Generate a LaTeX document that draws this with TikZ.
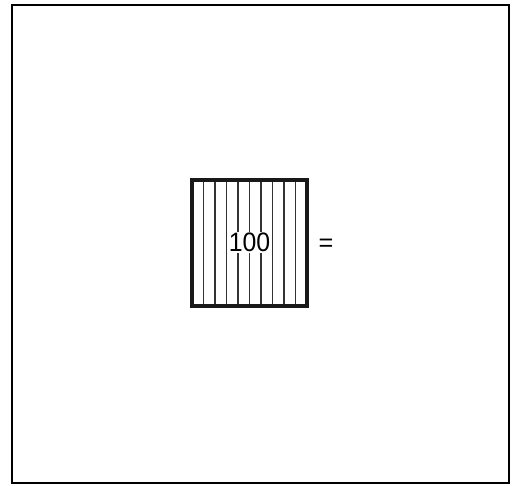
\documentclass[tikz,border=0pt]{standalone}
\usepackage{fontspec}
\setmainfont{Liberation Sans}
\newfontfamily\narrowfont[FakeStretch=0.93]{Liberation Sans}
\begin{document}
\begin{tikzpicture}[x=0.75pt,y=-0.75pt,
  frame/.style={line width=1.7pt,black},
  boxedge/.style={line width=2.6pt,black!90},
  stripe/.style={line width=1pt,black!80},
  lbl/.style={font=\narrowfont\fontsize{20}{22}\selectfont,inner sep=1pt,fill=white,anchor=base}]
\useasboundingbox (0,0) rectangle (516,485);
\draw[frame] (12,5) rectangle (509,483);
\foreach \k in {1,...,9} {
  \draw[stripe] ({192+11.5*\k},180) -- ({192+11.5*\k},306);
}
\node[lbl] (num) at (249.5,251.5) {100};
\draw[boxedge] (192,180) rectangle (307,306);
\node[font=\fontsize{19}{20}\selectfont,anchor=base,inner sep=0pt] (eq) at (326,251.5) {=};
\end{tikzpicture}
\end{document}
